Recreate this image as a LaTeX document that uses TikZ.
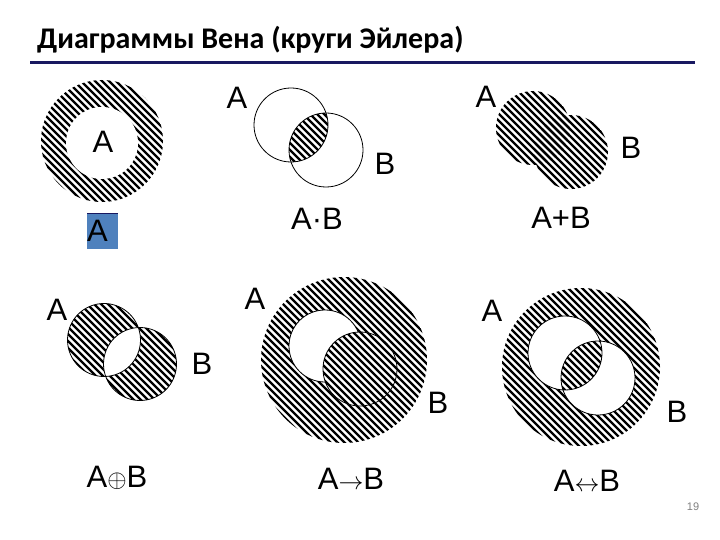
\documentclass[tikz,border=0pt]{standalone}
\usepackage{fontspec}
\setmainfont{Liberation Sans}
\newfontfamily\titlefont{Carlito}
\definecolor{boxblue}{RGB}{79,129,189}
\definecolor{navyline}{RGB}{24,24,96}
\newcommand{\myhatch}[3]{%
  \pgfmathtruncatemacro{\kmin}{floor((#1-#2-1.45*#3)/7)}%
  \pgfmathtruncatemacro{\kmax}{ceil((#1-#2+1.45*#3)/7)}%
  \foreach \k in {\kmin,...,\kmax}{%
    \draw[line width=2.4pt] ({#2-#3-5+7*\k},{#2-#3-5}) -- ({#2+#3+5+7*\k},{#2+#3+5});
  }}
\tikzset{
  lbl/.style={font=\fontsize{31}{31}\selectfont, inner sep=0pt},
  outl/.style={draw=black, line width=0.8pt},
}
\begin{document}
\begin{tikzpicture}[x=1pt,y=-1pt]
\useasboundingbox (0,0) rectangle (720,540);
\fill[white] (0,0) rectangle (720,540);
% title
\node[anchor=base west, inner sep=0pt, font=\titlefont\bfseries\fontsize{30}{30}\selectfont] (title) at (37,49) {Диаграммы Вена (круги Эйлера)};
\draw[navyline, line width=3pt] (30,63) -- (695,63);

% D1: not A
\begin{scope}\clip (102,141) circle (61pt); \myhatch{102}{141}{61}\end{scope}
\fill[white] (102,143) circle (36pt);
\node[lbl] (d1a) at (103,142) {A};
\fill[boxblue] (87,213) rectangle (118,249);
\draw[navyline, line width=1pt] (87,213.5) -- (118,213.5);
\node[lbl] (d1b) at (97.5,231) {A};

% D2: A.B
\begin{scope}\clip (291,125) circle (37pt); \clip (326,150) circle (37pt); \myhatch{308}{137}{40}\end{scope}
\draw[outl] (291,125) circle (37pt);
\draw[outl] (326,150) circle (37pt);
\node[lbl] (d2a) at (237,98) {A};
\node[lbl] (d2b) at (385,164) {B};
\node[lbl] (d2c) at (317,219) {A·B};

% D3: A+B
\begin{scope}\clip (533,128) circle (37pt); \myhatch{533}{128}{37}\end{scope}
\begin{scope}\clip (571,152) circle (37pt); \myhatch{571}{152}{37}\end{scope}
\node[lbl] (d3a) at (486,97) {A};
\node[lbl] (d3b) at (631,148) {B};
\node[lbl] (d3c) at (561,218) {A+B};

% D4: A xor B
\begin{scope}\clip (104,340) circle (36.5pt); \myhatch{104}{340}{37}\end{scope}
\begin{scope}\clip (140,364) circle (36.5pt); \myhatch{140}{364}{37}\end{scope}
\begin{scope}\clip (104,340) circle (36.5pt); \fill[white] (140,364) circle (36.5pt);\end{scope}
\draw[outl] (104,340) circle (36.5pt);
\draw[outl] (140,364) circle (36.5pt);
\node[lbl] (d4a) at (57,310) {A};
\node[lbl] (d4b) at (202,364) {B};
\node[lbl] (d4c) at (117,478) {A$\oplus$B};

% D5: A -> B
\begin{scope}\clip (344,360) circle (83pt); \myhatch{344}{360}{83}\end{scope}
\fill[white] (325,346) circle (36pt);
\draw[outl] (325,346) circle (36pt);
\fill[white] (360,369) circle (37pt);
\begin{scope}\clip (360,369) circle (37pt); \myhatch{360}{369}{37}\end{scope}
\draw[outl] (360,369) circle (37pt);
\node[lbl] (d5a) at (255,299) {A};
\node[lbl] (d5b) at (438,403) {B};
\node[lbl] (d5c) at (351,479) {A$\rightarrow$B};

% D6: A <-> B
\begin{scope}\clip (581,367) circle (79pt); \myhatch{581}{367}{79}\end{scope}
\fill[white] (565,353) circle (37pt);
\fill[white] (598,378) circle (37pt);
\begin{scope}\clip (565,353) circle (37pt); \clip (598,378) circle (37pt); \myhatch{581}{365}{40}\end{scope}
\draw[outl] (565,353) circle (37pt);
\draw[outl] (598,378) circle (37pt);
\node[lbl] (d6a) at (492,311) {A};
\node[lbl] (d6b) at (677,412) {B};
\node[lbl] (d6c) at (587,481) {A$\leftrightarrow$B};

\node[inner sep=0pt, text=gray, font=\fontsize{11}{11}\selectfont] (pg) at (693,507) {19};
\end{tikzpicture}
\end{document}
